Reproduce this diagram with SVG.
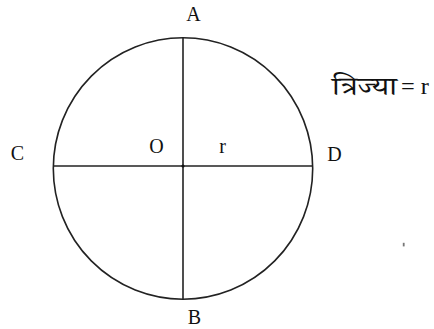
<svg xmlns="http://www.w3.org/2000/svg" width="434" height="329" viewBox="0 0 434 329">
<style>
.lbl{font-family:"Liberation Serif","Times New Roman",serif;font-size:20px;fill:#111}
.ln{stroke:#222;stroke-width:1.6;fill:none}
</style>
<rect width="434" height="329" fill="#fff"/>
<g id="circle"><ellipse class="ln" cx="183" cy="168.5" rx="129.7" ry="130.7" stroke-width="1.3"/></g>
<g id="connectors">
<line class="ln" x1="183" y1="38" x2="183" y2="299"/>
<line class="ln" x1="53" y1="166" x2="313" y2="166"/>
<circle cx="183" cy="166" r="1.6" fill="#111"/>
</g>
<g id="A"><text class="lbl" x="193.5" y="21" text-anchor="middle">A</text></g>
<g id="B"><text class="lbl" x="194.5" y="323.5" text-anchor="middle">B</text></g>
<g id="C"><text class="lbl" x="17.5" y="159.5" text-anchor="middle">C</text></g>
<g id="D"><text class="lbl" x="334.5" y="161" text-anchor="middle">D</text></g>
<g id="O"><text class="lbl" x="156.5" y="152.5" text-anchor="middle">O</text></g>
<g id="r"><text class="lbl" x="222.5" y="152.5" text-anchor="middle">r</text></g>
<g id="radius-label">
<text x="332" y="95" textLength="65" lengthAdjust="spacingAndGlyphs" style="font-family:'Noto Serif Devanagari','Noto Sans Devanagari','Lohit Devanagari','Liberation Serif',serif;font-size:26px;fill:#111">त्रिज्या</text>
<text x="401" y="94" textLength="28" lengthAdjust="spacingAndGlyphs" style="font-family:'Liberation Serif',serif;font-size:23px;fill:#111">= r</text>
</g>
<rect x="402.8" y="242.8" width="1.8" height="3.6" fill="#777"/>
</svg>
